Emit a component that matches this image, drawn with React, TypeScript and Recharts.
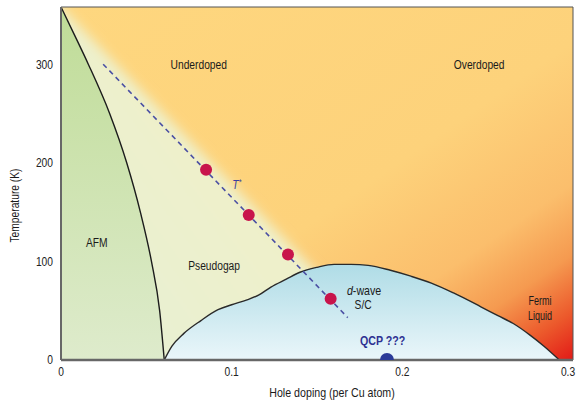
import React from 'react'
import {
  Area,
  ComposedChart,
  Line,
  ReferenceLine,
  Scatter,
  XAxis,
  YAxis
} from 'recharts'

const FONT = '"Liberation Sans", Arial, Helvetica, sans-serif'

// axes: hole doping (per Cu atom) vs temperature (K)
const xTicks = [0, 0.1, 0.2, 0.3]
const yTicks = [0, 100, 200, 300]
const tMax = 358

// antiferromagnetic boundary
const afmX = [0, 0.0078, 0.016, 0.0285, 0.0385, 0.0465, 0.053, 0.0578, 0.0605]
const afmT = [358, 330, 300, 250, 200, 150, 100, 50, 0]

// superconducting dome
const domeX = [
  0.0605, 0.065, 0.072, 0.082, 0.092, 0.1, 0.109, 0.116, 0.123, 0.132, 0.14, 0.15, 0.16,
  0.17, 0.18, 0.193, 0.205, 0.217, 0.23, 0.246, 0.256, 0.265, 0.275, 0.283, 0.292
]
const domeT = [
  0, 14, 27, 40, 51, 56, 61, 66, 74, 82, 89, 94, 97, 97, 96, 91, 85, 78, 68, 54, 45, 37, 25,
  14, 0
]

// soft upper edge of the pseudogap region
const pgX = [-0.03, 0.165]
const pgT = [411.8, 62]

// T* crossover line and measured points
const tStarX = [0.0247, 0.168]
const tStarT = [300, 43]
const dotX = [0.085, 0.11, 0.133, 0.158]
const dotT = [193, 147, 107, 62]
const qcpX = [0.191]
const qcpT = [0]

// background span
const bgX = [0, 0.3]
const bgT = [tMax, tMax]

const pairs = (xs: number[], ys: number[]) => xs.map((x, i) => ({ x, y: ys[i] }))

const afmData = pairs(afmX, afmT)
const domeData = pairs(domeX, domeT)
const pgData = pairs(pgX, pgT)
const tStarData = pairs(tStarX, tStarT)
const dotData = pairs(dotX, dotT)
const qcpData = pairs(qcpX, qcpT)
const bgData = pairs(bgX, bgT)

// region names
const regionLabels = [
  { x: 0.0807, y: 300, text: 'Underdoped' },
  { x: 0.245, y: 300, text: 'Overdoped' },
  { x: 0.021, y: 119, text: 'AFM' },
  { x: 0.0897, y: 95.4, text: 'Pseudogap' },
  { x: 0.177, y: 55.8, text: 'S/C' }
]
const fermiLabels = [
  { x: 0.2807, y: 60, text: 'Fermi' },
  { x: 0.2807, y: 45, text: 'Liquid' }
]
const waveLabel = [{ x: 0.1776, y: 70.6 }]
const tStarLabel = [{ x: 0.103, y: 178 }]
const qcpLabel = [{ x: 0.1885, y: 19.3 }]

const css = `.pg-soft path.recharts-area-area { filter: url(#soft); }`

// Helvetica-Narrow look: Arial metrics squeezed horizontally
const NarrowText = ({
  x,
  y,
  size = 12.5,
  sx = 0.82,
  anchor = 'middle',
  fill = '#1a1a1a',
  weight,
  italic,
  rotate,
  children
}: any) => (
  <text
    transform={`translate(${x} ${y})${rotate ? ` rotate(${rotate})` : ''} scale(${sx} 1)`}
    textAnchor={anchor}
    dominantBaseline="central"
    fontFamily={FONT}
    fontSize={size}
    fontWeight={weight}
    fontStyle={italic ? 'italic' : undefined}
    fill={fill}
  >
    {children}
  </text>
)

const RedDot = (p: any) => <circle cx={p.cx} cy={p.cy} r={6} fill="#C8144B" />
const BlueDot = (p: any) => <circle cx={p.cx} cy={p.cy} r={7} fill="#2A3A98" />

const PlainText = (p: any) => (
  <NarrowText x={p.cx} y={p.cy}>
    {p.payload.text}
  </NarrowText>
)

const FermiText = (p: any) => (
  <NarrowText x={p.cx} y={p.cy} size={12.5} sx={0.72}>
    {p.payload.text}
  </NarrowText>
)

const WaveText = (p: any) => (
  <NarrowText x={p.cx} y={p.cy} size={13}>
    <tspan fontStyle="italic">d</tspan>-wave
  </NarrowText>
)

const TStarText = (p: any) => (
  <NarrowText x={p.cx} y={p.cy} size={12.5} fill="#3A3F9E" italic>
    T<tspan fontSize={9} dy={-3}>*</tspan>
  </NarrowText>
)

const QcpText = (p: any) => (
  <NarrowText x={p.cx} y={p.cy} size={13} weight="bold" fill="#2E3192">
    QCP ???
  </NarrowText>
)

const XTick = (p: any) => (
  <NarrowText x={p.x} y={p.y + 4} size={12.5} fill="#222">
    {p.payload.value}
  </NarrowText>
)

const YTick = (p: any) => (
  <NarrowText x={p.x} y={p.y} size={12.5} anchor="end" fill="#222">
    {p.payload.value}
  </NarrowText>
)

const YTitle = (p: any) => {
  const vb = p.viewBox || { x: 0, y: 7, width: 61, height: 353 }
  return (
    <NarrowText x={vb.x + 15} y={vb.y + vb.height / 2 + 22} size={12.5} rotate={-90}>
      Temperature (K)
    </NarrowText>
  )
}

const XTitle = (p: any) => {
  const vb = p.viewBox || { x: 61, y: 360, width: 511, height: 43 }
  return (
    <NarrowText x={vb.x + vb.width / 2 + 15} y={vb.y + 33} size={13}>
      Hole doping (per Cu atom)
    </NarrowText>
  )
}

export default function App() {
  return (
    <div style={{ position: 'absolute', left: 0, top: 0 }}>
      <style>{css}</style>
      <ComposedChart
        width={578}
        height={403}
        margin={{ top: 7, right: 5, bottom: 0, left: 0 }}
      >
        <defs>
          <linearGradient id="bg" x1="0" y1="0" x2="1" y2="1">
            <stop offset="0%" stopColor="#FED77F" />
            <stop offset="55%" stopColor="#FDD27B" />
            <stop offset="75%" stopColor="#FBBE6C" />
            <stop offset="85%" stopColor="#F59A50" />
            <stop offset="93%" stopColor="#EC5A2C" />
            <stop offset="100%" stopColor="#E21A17" />
          </linearGradient>
          <linearGradient id="pg" x1="1" y1="0" x2="0" y2="1">
            <stop offset="0%" stopColor="#F5EDB8" />
            <stop offset="45%" stopColor="#EEF0CB" />
            <stop offset="100%" stopColor="#E3F0D8" />
          </linearGradient>
          <linearGradient id="afm" x1="0" y1="0" x2="0" y2="1">
            <stop offset="0%" stopColor="#BFDC97" />
            <stop offset="100%" stopColor="#DEEBCC" />
          </linearGradient>
          <linearGradient id="sc" x1="0" y1="0" x2="0" y2="1">
            <stop offset="0%" stopColor="#AFDCE6" />
            <stop offset="100%" stopColor="#EAF6FA" />
          </linearGradient>
          <filter id="soft" x="-30%" y="-30%" width="160%" height="160%">
            <feGaussianBlur stdDeviation="6" />
          </filter>
        </defs>
        <XAxis
          type="number"
          dataKey="x"
          domain={[0, 0.3]}
          ticks={xTicks}
          allowDataOverflow
          height={43}
          tickLine={false}
          tickSize={0}
          tickMargin={8}
          axisLine={{ stroke: '#676767', strokeWidth: 2.5 }}
          tick={XTick}
          label={{ content: XTitle }}
        />
        <YAxis
          type="number"
          dataKey="y"
          domain={[0, tMax]}
          ticks={yTicks}
          allowDataOverflow
          width={61}
          tickLine={false}
          tickSize={0}
          tickMargin={8}
          axisLine={{ stroke: '#676767', strokeWidth: 2 }}
          tick={YTick}
          label={{ content: YTitle }}
        />
        <Area
          data={bgData}
          dataKey="y"
          type="linear"
          stroke="none"
          fill="url(#bg)"
          fillOpacity={1}
          isAnimationActive={false}
        />
        <Area
          className="pg-soft"
          data={pgData}
          dataKey="y"
          type="linear"
          baseValue={-40}
          stroke="none"
          fill="url(#pg)"
          fillOpacity={1}
          isAnimationActive={false}
        />
        <Area
          data={afmData}
          dataKey="y"
          type="monotone"
          stroke="#1c1c1c"
          strokeWidth={1.4}
          fill="url(#afm)"
          fillOpacity={1}
          isAnimationActive={false}
        />
        <Area
          data={domeData}
          dataKey="y"
          type="monotone"
          stroke="#2a2a2a"
          strokeWidth={1.4}
          fill="url(#sc)"
          fillOpacity={1}
          isAnimationActive={false}
        />
        <ReferenceLine y={tMax} stroke="#555" strokeWidth={1} />
        <ReferenceLine x={0.3} stroke="#555" strokeWidth={1} />
        <Line
          data={tStarData}
          dataKey="y"
          type="linear"
          stroke="#4A4FA3"
          strokeWidth={1.6}
          strokeDasharray="5 4"
          dot={false}
          isAnimationActive={false}
        />
        <Scatter data={dotData} shape={RedDot} isAnimationActive={false} />
        <Scatter data={qcpData} shape={BlueDot} isAnimationActive={false} />
        <Scatter data={regionLabels} shape={PlainText} isAnimationActive={false} />
        <Scatter data={fermiLabels} shape={FermiText} isAnimationActive={false} />
        <Scatter data={waveLabel} shape={WaveText} isAnimationActive={false} />
        <Scatter data={tStarLabel} shape={TStarText} isAnimationActive={false} />
        <Scatter data={qcpLabel} shape={QcpText} isAnimationActive={false} />
      </ComposedChart>
    </div>
  )
}
